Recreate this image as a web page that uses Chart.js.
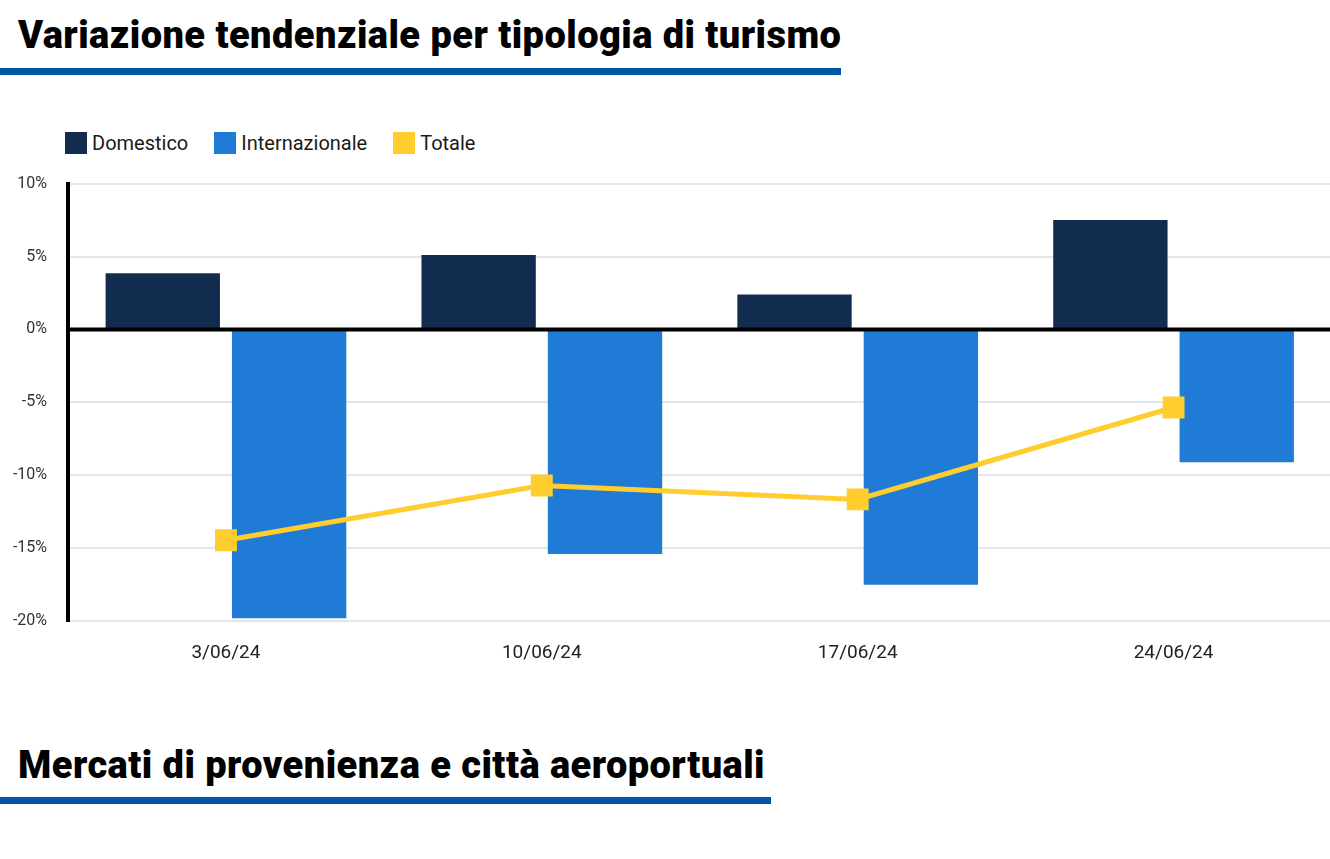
<!DOCTYPE html>
<html lang="it">
<head>
<meta charset="utf-8">
<title>Variazione tendenziale per tipologia di turismo</title>
<script src="https://cdn.jsdelivr.net/npm/chart.js@4.4.1/dist/chart.umd.min.js"></script>
<style>
  html,body{margin:0;padding:0;background:#fff;}
  body{width:1330px;height:859px;position:relative;overflow:hidden;font-family:Roboto,"Noto Sans",sans-serif;color:#1a1a1a;}
  .titolo{position:absolute;left:18px;font-weight:900;font-size:38px;line-height:1;letter-spacing:0.45px;color:#000;white-space:nowrap;}
  .riga{position:absolute;left:0;height:7px;background:#0057a4;}
  #legenda{position:absolute;left:65px;top:131px;display:flex;align-items:center;font-size:20px;color:#1a1a1a;}
  #legenda .voce{display:flex;align-items:center;margin-right:26px;}
  #legenda .box{width:22px;height:22px;margin-right:5px;}
  #wrap{position:absolute;left:0;top:153px;width:1347px;height:525px;}
</style>
</head>
<body>
<div class="titolo" style="top:16px">Variazione tendenziale per tipologia di turismo</div>
<div class="riga" style="top:68px;width:841px"></div>

<div id="legenda"></div>
<div id="wrap"><canvas id="grafico"></canvas></div>

<div class="titolo" style="top:746px">Mercati di provenienza e città aeroportuali</div>
<div class="riga" style="top:797px;width:771px"></div>

<script>
// dati (variazione % sull'anno precedente)
const settimane = ["3/06/24", "10/06/24", "17/06/24", "24/06/24"];
const domestico = [3.85, 5.1, 2.4, 7.5];
const internazionale = [-19.8, -15.4, -17.5, -9.1];
const totale = [-14.45, -10.7, -11.65, -5.35];
const tickY = [10, 5, 0, -5, -10, -15, -20];

const COL_DOM = "#122c4f", COL_INT = "#207bd7", COL_TOT = "#ffcd2e";

// legenda in HTML, come nell'originale
const serie = [["Domestico", COL_DOM], ["Internazionale", COL_INT], ["Totale", COL_TOT]];
document.getElementById("legenda").innerHTML = serie.map(([t, c]) =>
  `<div class="voce"><div class="box" style="background:${c}"></div>${t}</div>`).join("");

// linea dello zero sopra le barre
const lineaZero = {
  id: "lineaZero",
  afterDatasetsDraw(chart){
    const y = chart.scales.y.getPixelForValue(0), a = chart.chartArea, ctx = chart.ctx;
    ctx.save();
    ctx.strokeStyle = "#000"; ctx.lineWidth = 4;
    ctx.beginPath(); ctx.moveTo(a.left, y); ctx.lineTo(a.right, y); ctx.stroke();
    ctx.restore();
  }
};

new Chart(document.getElementById("grafico"), {
  type: "bar",
  data: {
    labels: settimane,
    datasets: [
      {type:"line", label:"Totale", data:totale, borderColor:COL_TOT, backgroundColor:COL_TOT,
       borderWidth:5, pointStyle:"rect", pointRadius:15.5, pointHoverRadius:15.5,
       pointBorderWidth:0, tension:0, order:0},
      {label:"Domestico", data:domestico, backgroundColor:COL_DOM, order:1,
       barPercentage:0.905, categoryPercentage:0.8},
      {label:"Internazionale", data:internazionale, backgroundColor:COL_INT, order:1,
       barPercentage:0.905, categoryPercentage:0.8}
    ]
  },
  options: {
    responsive: true, maintainAspectRatio: false, animation: false,
    layout: {padding: {top: 12, right: 0, left: 0, bottom: 0}},
    plugins: {legend: {display: false}, tooltip: {enabled: false}},
    scales: {
      x: {
        grid: {display: false}, border: {display: false},
        ticks: {color: "#222", font: {family: "Roboto", size: 19}, padding: 13}
      },
      y: {
        min: -20, max: 10,
        afterFit(s){ s.width = 68; },
        afterBuildTicks(s){ s.ticks = tickY.map(v => ({value: v})); },
        grid: {color: "#e3e6ea", lineWidth: 2, drawTicks: false},
        border: {color: "#000", width: 4},
        ticks: {color: "#333", font: {family: "Roboto", size: 16}, padding: 21,
                callback: v => v + "%"}
      }
    }
  },
  plugins: [lineaZero]
});
</script>
</body>
</html>
